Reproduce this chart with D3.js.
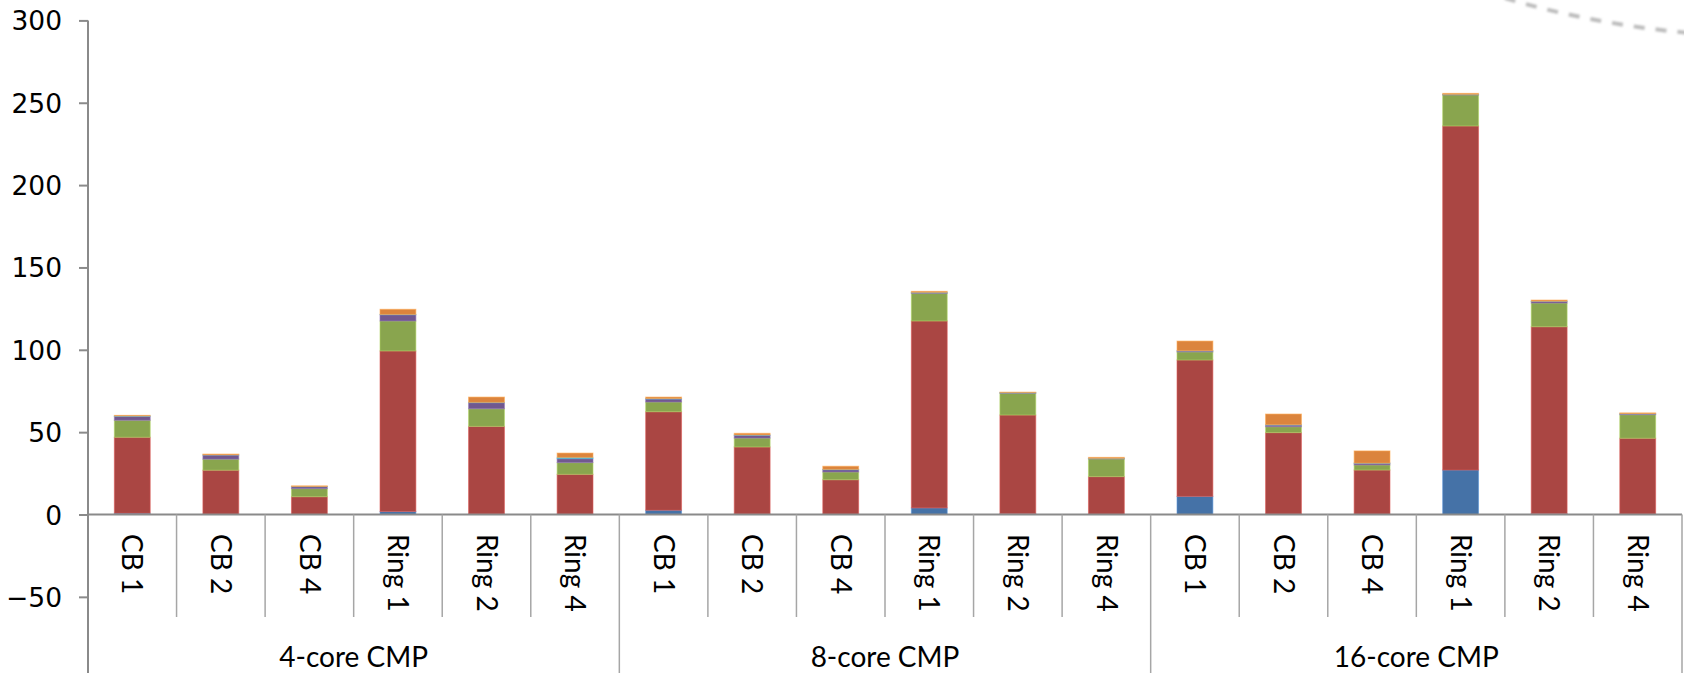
<!DOCTYPE html>
<html>
<head>
<meta charset="utf-8">
<script src="https://cdn.jsdelivr.net/npm/d3@7"></script>
<style>
  body { margin: 0; background: #fff; }
  svg { display: block; }
  .ytick text { font-family: "DejaVu Sans", Verdana, sans-serif; font-size: 26.5px; fill: #000; }
  .xlabel { font-family: Lato, "Open Sans", sans-serif; font-size: 28px; fill: #000; }
</style>
</head>
<body>
<svg id="chart" width="1684" height="673"></svg>
<script>
'use strict';

var groups = ['4-core CMP', '8-core CMP', '16-core CMP'];
var configs = ['CB 1', 'CB 2', 'CB 4', 'Ring 1', 'Ring 2', 'Ring 4'];
var yTicks = [-50, 0, 50, 100, 150, 200, 250, 300];

// stacked series, bottom to top, one value per bar (4-core, 8-core, 16-core)
var blue   = [0.8, 0.2, 0.1, 1.8, 0.3, 0.2,   2.6, 0.3, 0.2, 4.0, 0.5, 0.2,   11.0, 0.3, 0.2, 27.0, 0.5, 0.3];
var red    = [46.1, 26.7, 10.7, 97.5, 53.2, 24.2,   59.8, 40.7, 20.9, 113.5, 59.9, 22.8,   82.8, 49.4, 26.8, 208.9, 113.5, 46.0];
var green  = [10.3, 6.7, 4.9, 18.2, 10.7, 7.1,   5.9, 5.4, 4.7, 16.8, 13.2, 10.7,   4.9, 3.6, 3.1, 18.8, 14.4, 14.3];
var purple = [2.4, 2.5, 1.2, 3.8, 3.7, 2.4,   1.8, 1.7, 1.4, 0.4, 0.3, 0.3,   0.6, 1.0, 1.0, 0.3, 1.0, 0.5];
var cyan   = [0.2, 0.1, 0.1, 0.2, 0.2, 0.8,   0.3, 0.2, 0.2, 0.2, 0.1, 0.1,   0.1, 0.2, 0.1, 0.1, 0.1, 0.1];
var orange = [0.4, 0.5, 0.4, 3.1, 3.2, 2.6,   0.9, 1.0, 1.9, 0.6, 0.3, 0.6,   5.9, 6.5, 7.4, 0.6, 0.7, 0.5];

var keys = ['blue', 'red', 'green', 'purple', 'cyan', 'orange'];
var colors = ['#4572A7', '#AA4643', '#89A54E', '#71588F', '#4198AF', '#DB843D'];
var series = { blue: blue, red: red, green: green, purple: purple, cyan: cyan, orange: orange };

var svg = d3.select('#chart');
var left = 88, right = 1682, zeroY = 514.5, topY = 20.4;
var axisColor = '#8a8a8a';

// rows for d3.stack
var rows = [];
groups.forEach(function(g, gi) {
  configs.forEach(function(c, ci) {
    var i = gi * configs.length + ci;
    var row = { id: i, group: g, label: c };
    keys.forEach(function(k) { row[k] = series[k][i]; });
    rows.push(row);
  });
});

var x = d3.scaleBand()
  .domain(rows.map(function(d) { return d.id; }))
  .range([left, right])
  .paddingInner(0.595)
  .paddingOuter(0.2975);

var y = d3.scaleLinear()
  .domain([0, 300])
  .range([zeroY, topY]);

var step = x.step();
function edge(i) { return left + i * step; }

// y axis
var yAxis = svg.append('g')
  .attr('class', 'ytick')
  .attr('transform', 'translate(' + left + ',0)')
  .call(d3.axisLeft(y).tickValues(yTicks).tickSize(9).tickPadding(17).tickSizeOuter(0));
yAxis.select('.domain').remove();
yAxis.selectAll('line').attr('stroke', axisColor).attr('stroke-width', 2);
yAxis.selectAll('text').attr('dy', '0.36em');

svg.append('line')
  .attr('x1', left).attr('x2', left)
  .attr('y1', topY).attr('y2', 673)
  .attr('stroke', axisColor).attr('stroke-width', 2);

// bars
var stacked = d3.stack().keys(keys)(rows);

svg.append('g').selectAll('g')
  .data(stacked)
  .enter().append('g')
  .attr('fill', function(d, i) { return colors[i]; })
  .attr('stroke', function(d, i) { return d3.color(colors[i]).brighter(0.7); })
  .attr('stroke-opacity', 0.6)
  .attr('stroke-width', 1)
  .selectAll('rect')
  .data(function(d) { return d; })
  .enter().append('rect')
  .attr('x', function(d) { return x(d.data.id); })
  .attr('width', x.bandwidth())
  .attr('y', function(d) { return y(d[1]); })
  .attr('height', function(d) { return Math.max(0, y(d[0]) - y(d[1])); });

// category axis
svg.append('line')
  .attr('x1', left).attr('x2', right)
  .attr('y1', zeroY).attr('y2', zeroY)
  .attr('stroke', axisColor).attr('stroke-width', 2);

var seps = d3.range(1, rows.length + 1);
svg.append('g').selectAll('line')
  .data(seps)
  .enter().append('line')
  .attr('x1', function(i) { return edge(i); })
  .attr('x2', function(i) { return edge(i); })
  .attr('y1', zeroY)
  .attr('y2', function(i) { return i % configs.length === 0 ? 673 : 617; })
  .attr('stroke', '#a6a6a6')
  .attr('stroke-width', 1.5);

svg.append('g').selectAll('text')
  .data(rows)
  .enter().append('text')
  .attr('class', 'xlabel')
  .attr('transform', function(d) {
    return 'translate(' + (x(d.id) + x.bandwidth() / 2) + ',534) rotate(90)';
  })
  .attr('dy', '0.35em')
  .text(function(d) { return d.label; });

svg.append('g').selectAll('text')
  .data(groups)
  .enter().append('text')
  .attr('class', 'xlabel')
  .attr('text-anchor', 'middle')
  .attr('x', function(g, gi) { return (edge(gi * configs.length) + edge((gi + 1) * configs.length)) / 2; })
  .attr('y', 667)
  .text(function(g) { return g; });

// dashed connector curve entering from the top right
var defs = svg.append('defs');
defs.append('filter').attr('id', 'soft')
  .append('feGaussianBlur').attr('stdDeviation', 0.8);

var p = d3.path();
p.moveTo(1505, -2);
p.bezierCurveTo(1550, 12, 1620, 27, 1690, 33);
svg.append('path')
  .attr('d', p.toString())
  .attr('fill', 'none')
  .attr('stroke', '#bdbdbd')
  .attr('stroke-width', 4)
  .attr('stroke-dasharray', '11,11')
  .attr('filter', 'url(#soft)');
</script>
</body>
</html>
